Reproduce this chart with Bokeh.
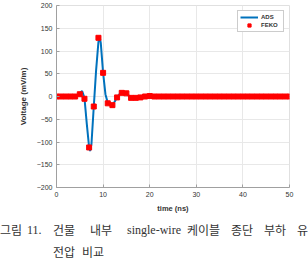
from bokeh.plotting import figure
from bokeh.layouts import column
from bokeh.models import Range1d, Legend, LegendItem, FixedTicker, Div
from bokeh.embed import file_html
from bokeh.resources import INLINE

# ADS (continuous simulation curve)
ads_t = [0, 1, 2, 3, 4, 4.5, 5, 5.5, 6, 6.5, 7, 7.2, 7.5, 8, 8.5, 9, 9.25, 9.5, 10,
         10.5, 11, 11.5, 12, 12.5, 13, 13.5, 14, 14.5, 15, 15.5, 16, 17, 18, 19, 20,
         22, 25, 30, 35, 40, 45, 50]
ads_v = [0, 0, 0, 0, 0, 2, 7, 12, -3, -60, -112, -120, -105, -22, 58, 120, 132, 118, 52,
         5, -14, -19, -19, -11, -2, 5, 8, 8, 6, 2, -2, -3, -2, -1, 0,
         1, 0, 0, 0, 0, 0, 0]

# FEKO (sampled every 1 ns)
feko_t = [0, 1, 2, 3, 4, 5, 6, 7, 8, 9, 10, 11, 12, 13, 14, 15, 16, 17, 18, 19, 20,
          21, 22, 23, 24, 25, 26, 27, 28, 29, 30, 31, 32, 33, 34, 35, 36, 37, 38, 39, 40,
          41, 42, 43, 44, 45, 46, 47, 48, 49, 50]
feko_v = [0, 0, 0, 0, 0, 5, -5, -112, -22, 129, 52, -15, -19, -2, 8, 7, -3, -3, -2, 0, 1,
          0, 0, 0, 0, 0, 0, 0, 0, 0, 0, 0, 0, 0, 0, 0, 0, 0, 0, 0, 0,
          0, 0, 0, 0, 0, 0, 0, 0, 0, 0]

x_ticks = [0, 10, 20, 30, 40, 50]
y_ticks = [-200, -150, -100, -50, 0, 50, 100, 150, 200]

caption_line1 = ["그림", "11.", "건물", "내부", "single-wire", "케이블", "종단", "부하", "유"]
caption_line2 = ["전압", "비교"]

# layout (page-pixel positions of caption words)
line1_x = [0, 27, 53, 90, 127, 187, 231, 264, 297]
line2_x = [53, 82]

FL, FR = 56, 19
MAIN_H = 215

p = figure(width=308, height=MAIN_H, output_backend="svg", toolbar_location=None,
           x_range=Range1d(0, 50), y_range=Range1d(-200, 200))
p.min_border_left = FL
p.min_border_right = FR
p.min_border_top = 5
p.min_border_bottom = 28
p.background_fill_color = "white"
p.outline_line_color = "#e0e0e0"

l = p.line(ads_t, ads_v, line_color="#0072BD", line_width=2)
m = p.scatter(feko_t, feko_v, marker="square", size=5, fill_color="#FF0000",
              line_color="#FF0000")

for ax in (p.xaxis[0], p.yaxis[0]):
    ax.axis_line_color = "#a0a0a0"
    ax.major_tick_line_color = "#a0a0a0"
    ax.major_tick_in = 3
    ax.major_tick_out = 0
    ax.minor_tick_line_color = None
    ax.major_label_text_font = "Liberation Sans"
    ax.major_label_text_font_size = "7px"
    ax.major_label_text_color = "#333333"
    ax.axis_label_text_font = "Liberation Sans"
    ax.axis_label_text_font_style = "bold"
    ax.axis_label_text_color = "#333333"

p.xaxis.ticker = FixedTicker(ticks=x_ticks)
p.yaxis.ticker = FixedTicker(ticks=y_ticks)
p.xaxis.axis_label = "time (ns)"
p.yaxis.axis_label = "Voltage (mV/m)"
p.xaxis.axis_label_text_font_size = "7.5px"
p.yaxis.axis_label_text_font_size = "8px"
p.xaxis.axis_label_standoff = 4
p.yaxis.axis_label_standoff = 6
p.xaxis.major_label_standoff = 4
p.yaxis.major_label_standoff = 4

p.xgrid.grid_line_color = "#e8e8e8"
p.ygrid.grid_line_color = "#e8e8e8"
p.xgrid.ticker = FixedTicker(ticks=x_ticks)
p.ygrid.ticker = FixedTicker(ticks=y_ticks)

legend = Legend(items=[LegendItem(label="ADS", renderers=[l]),
                       LegendItem(label="FEKO", renderers=[m])],
                location="top_right")
legend.label_text_font = "Liberation Sans"
legend.label_text_font_size = "6px"
legend.label_text_font_style = "bold"
legend.label_text_color = "#333333"
legend.glyph_width = 18
legend.glyph_height = 8
legend.label_height = 8
legend.spacing = 0
legend.padding = 2
legend.margin = 5
legend.label_standoff = 3
legend.border_line_color = "#999999"
legend.background_fill_alpha = 1
p.add_layout(legend)

# caption as positioned HTML words (x from page left, y = line centre from page top)
def spans(words, xs, cy):
    out = []
    for w, x in zip(words, xs):
        is_latin = all(ord(ch) < 128 for ch in w)
        font = "'Liberation Serif'" if is_latin else "'Noto Sans CJK KR'"
        out.append(
            f"<span style=\"position:absolute;left:{x}px;top:{cy - MAIN_H - 9}px;"
            f"line-height:18px;font-family:{font};font-size:12px;color:#333;"
            f"white-space:nowrap;\">{w}</span>")
    return "".join(out)

html = ("<div style=\"position:relative;width:308px;height:44px;overflow:hidden;\">"
        + spans(caption_line1, line1_x, 230) + spans(caption_line2, line2_x, 252)
        + "</div>")
cap = Div(text=html, width=308, height=44, margin=0)

layout = column(p, cap, spacing=0)
open("out.html", "w").write(file_html(layout, INLINE))
